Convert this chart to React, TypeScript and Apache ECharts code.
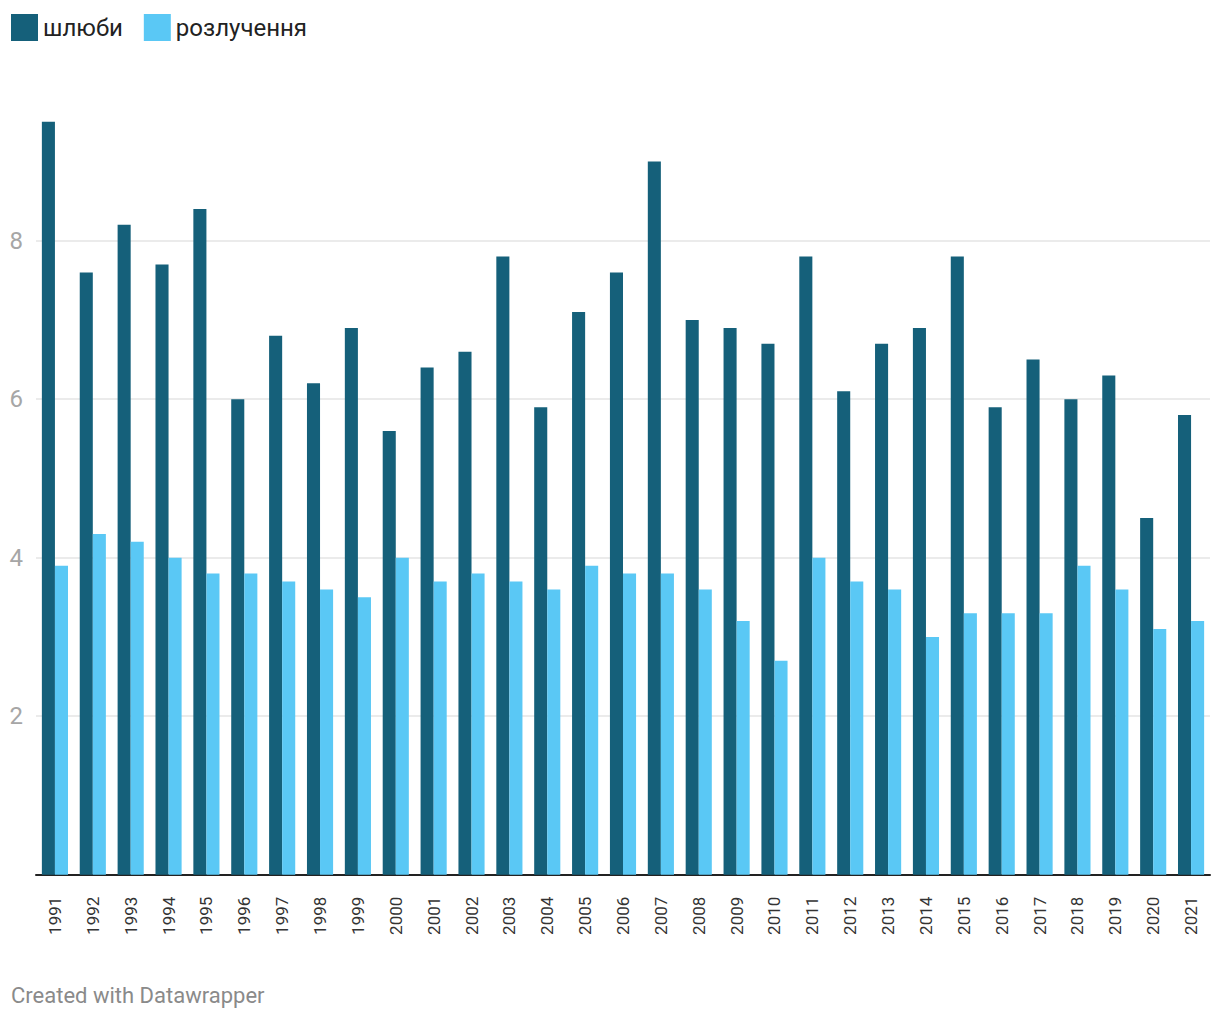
import React, { useEffect, useRef } from "react";
import * as echarts from "echarts";

const years = [
  "1991", "1992", "1993", "1994", "1995", "1996", "1997", "1998", "1999", "2000",
  "2001", "2002", "2003", "2004", "2005", "2006", "2007", "2008", "2009", "2010",
  "2011", "2012", "2013", "2014", "2015", "2016", "2017", "2018", "2019", "2020", "2021",
];

const marriages = [
  9.5, 7.6, 8.2, 7.7, 8.4, 6.0, 6.8, 6.2, 6.9, 5.6,
  6.4, 6.6, 7.8, 5.9, 7.1, 7.6, 9.0, 7.0, 6.9, 6.7,
  7.8, 6.1, 6.7, 6.9, 7.8, 5.9, 6.5, 6.0, 6.3, 4.5, 5.8,
];

const divorces = [
  3.9, 4.3, 4.2, 4.0, 3.8, 3.8, 3.7, 3.6, 3.5, 4.0,
  3.7, 3.8, 3.7, 3.6, 3.9, 3.8, 3.8, 3.6, 3.2, 2.7,
  4.0, 3.7, 3.6, 3.0, 3.3, 3.3, 3.3, 3.9, 3.6, 3.1, 3.2,
];

const seriesNames = ["шлюби", "розлучення"];
const footerText = "Created with Datawrapper";

const FONT = "Roboto, 'Noto Sans', sans-serif";

export default function App() {
  const ref = useRef<HTMLDivElement>(null);

  useEffect(() => {
    document.body.style.margin = "0";
    if (!ref.current) return;
    const chart = echarts.init(ref.current, undefined, { renderer: "svg" });
    chart.setOption({
      animation: false,
      backgroundColor: "#ffffff",
      textStyle: { fontFamily: FONT },
      legend: {
        left: 6,
        top: 9,
        itemWidth: 27,
        itemHeight: 27,
        itemGap: 21,
        icon: "rect",
        textStyle: { fontSize: 24, color: "#222222", fontFamily: FONT },
        data: seriesNames,
      },
      graphic: [
        {
          type: "text",
          left: 11,
          top: 984,
          style: {
            text: footerText,
            fontSize: 22,
            fill: "#8a8a8a",
            fontFamily: FONT,
          },
        },
      ],
      grid: {
        left: 36,
        right: 10,
        top: 82.2,
        bottom: 145.3,
        containLabel: false,
      },
      xAxis: {
        type: "category",
        data: years,
        axisLine: { show: true, lineStyle: { color: "#222222", width: 2 } },
        axisTick: { show: false },
        axisLabel: {
          rotate: 90,
          margin: 22,
          fontSize: 17,
          color: "#333333",
          fontFamily: FONT,
        },
        splitLine: { show: false },
      },
      yAxis: {
        type: "value",
        min: 0,
        max: 10,
        interval: 2,
        axisLine: { show: false },
        axisTick: { show: false },
        axisLabel: {
          margin: 13,
          fontSize: 24,
          color: "#a6a6a6",
          fontFamily: FONT,
          showMinLabel: false,
          showMaxLabel: false,
        },
        splitLine: {
          show: true,
          showMinLine: false,
          showMaxLine: false,
          lineStyle: { color: "#e5e5e5", width: 1.5 },
        },
      },
      series: [
        {
          name: seriesNames[0],
          type: "bar",
          data: marriages,
          itemStyle: { color: "#15607a" },
          barGap: "0%",
          barCategoryGap: "31%",
        },
        {
          name: seriesNames[1],
          type: "bar",
          data: divorces,
          itemStyle: { color: "#5ac8f5" },
          barGap: "0%",
          barCategoryGap: "31%",
        },
      ],
    });
    return () => chart.dispose();
  }, []);

  return <div ref={ref} style={{ width: 1220, height: 1020 }} />;
}
